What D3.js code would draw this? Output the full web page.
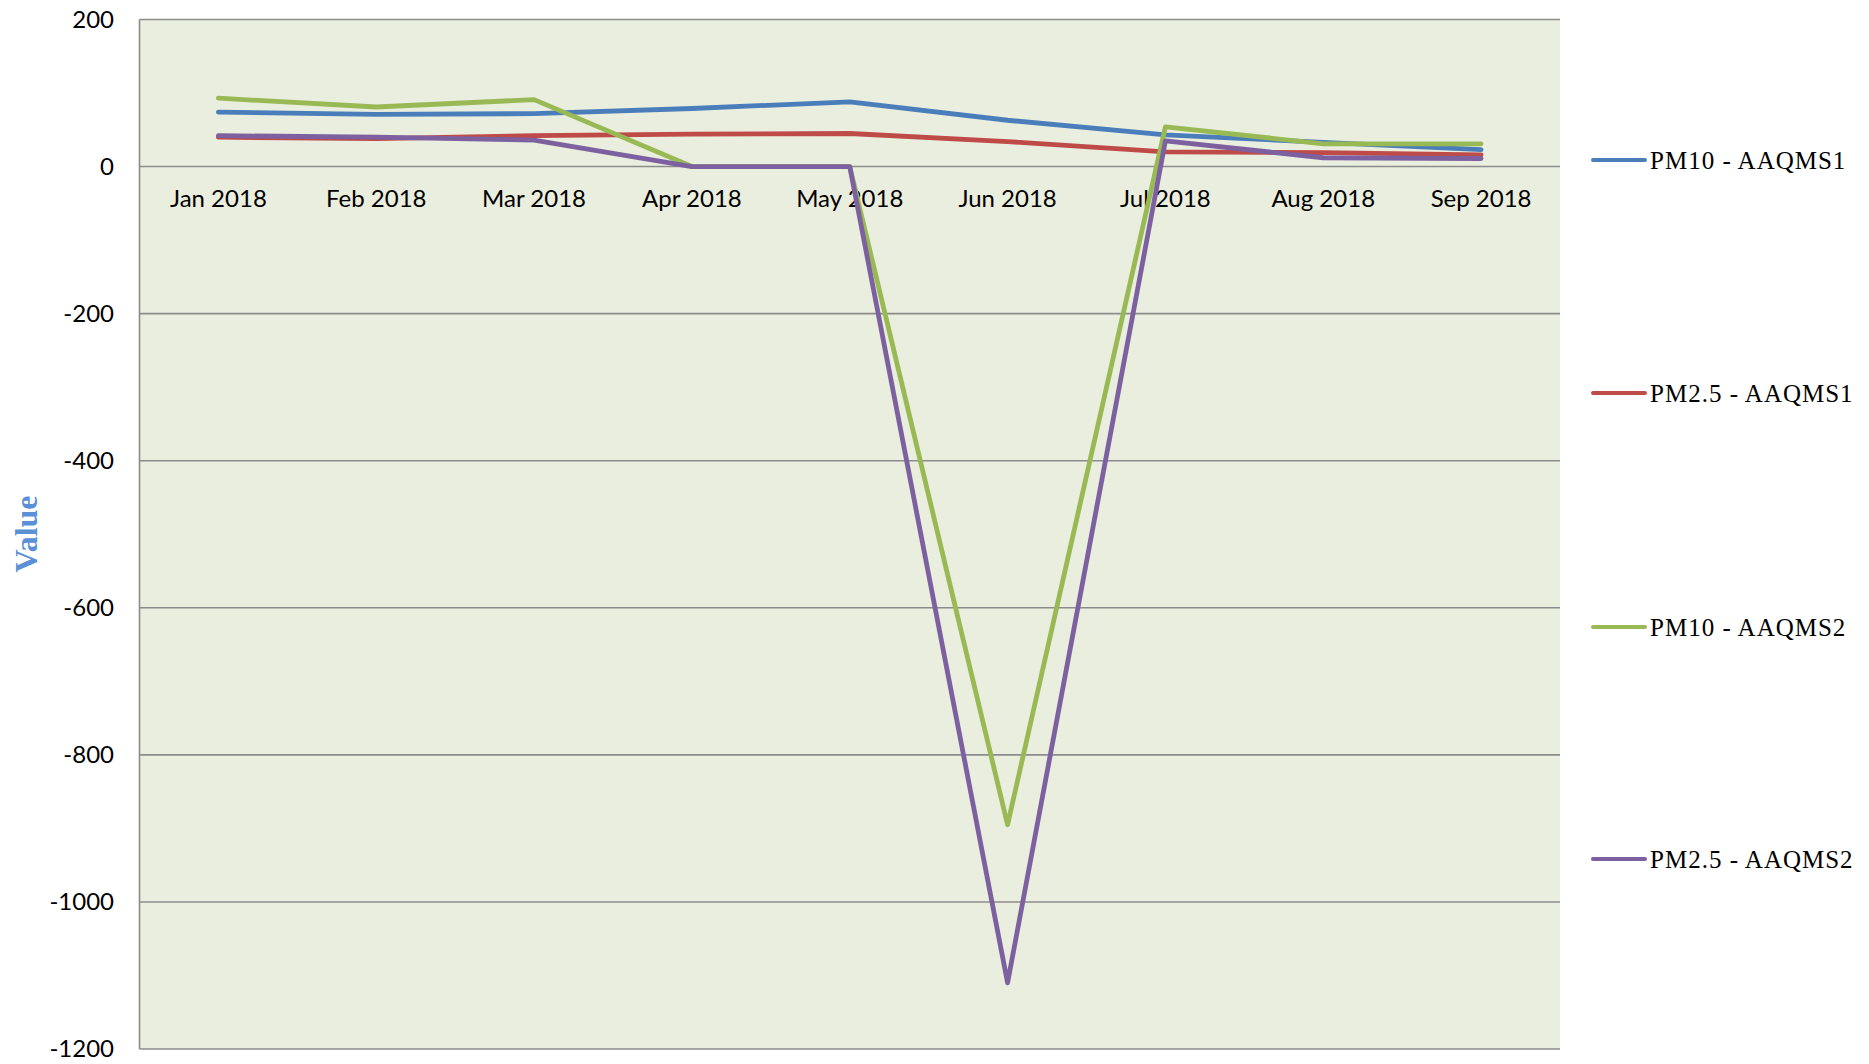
<!DOCTYPE html>
<html>
<head>
<meta charset="utf-8">
<script src="https://cdn.jsdelivr.net/npm/d3@7"></script>
<style>
  body { margin: 0; background: #ffffff; }
</style>
</head>
<body>
<div class="main"></div>
<script>
// chart values
let months = ["Jan 2018", "Feb 2018", "Mar 2018", "Apr 2018", "May 2018", "Jun 2018", "Jul 2018", "Aug 2018", "Sep 2018"];
let seriesNames = ["PM10 - AAQMS1", "PM2.5 - AAQMS1", "PM10 - AAQMS2", "PM2.5 - AAQMS2"];
let pm10_s1 = [74, 71, 72, 79, 88, 63, 43, 33, 23];
let pm25_s1 = [40, 38, 42, 44, 45, 34, 20, 19, 16];
let pm10_s2 = [93, 81, 91, 0, 0, -895, 54, 31, 31];
let pm25_s2 = [42, 40, 36, 0, 0, -1110, 35, 12, 11];
let yTicks = [200, 0, -200, -400, -600, -800, -1000, -1200];

let colors = ["#4A7EBB", "#BE4B48", "#98B954", "#7D60A0"];
let allSeries = [pm10_s1, pm25_s1, pm10_s2, pm25_s2];

let width = 1869,
    height = 1064;

let svg = d3.select("div.main").append("svg")
  .attr("width", width)
  .attr("height", height);

// plot area
let plotLeft = 139.5, plotRight = 1560, plotTop = 19.5, plotBottom = 1049;

let x = d3.scalePoint()
  .domain(months)
  .range([plotLeft, plotRight])
  .padding(0.5);

let y = d3.scaleLinear()
  .domain([-1200, 200])
  .range([plotBottom, plotTop]);

svg.append("rect")
  .attr("x", plotLeft)
  .attr("y", plotTop)
  .attr("width", plotRight - plotLeft)
  .attr("height", plotBottom - plotTop)
  .attr("fill", "#EAEEDE");

// gridlines
svg.append("g")
  .selectAll("line")
  .data(yTicks)
  .enter().append("line")
    .attr("x1", plotLeft)
    .attr("x2", plotRight)
    .attr("y1", d => y(d))
    .attr("y2", d => y(d))
    .attr("stroke", "#8c8c8c")
    .attr("stroke-width", 1.6);

// left axis line
svg.append("line")
  .attr("x1", plotLeft).attr("x2", plotLeft)
  .attr("y1", plotTop).attr("y2", plotBottom)
  .attr("stroke", "#8c8c8c")
  .attr("stroke-width", 1.6);

// y tick labels
svg.append("g")
  .selectAll("text")
  .data(yTicks)
  .enter().append("text")
    .attr("x", 114)
    .attr("y", d => y(d))
    .attr("dy", "0.35em")
    .attr("text-anchor", "end")
    .style("font-family", "Lato, 'Open Sans', sans-serif")
    .style("font-size", "24px")
    .attr("fill", "#000")
    .text(d => d);

// x labels sit under the zero line
svg.append("g")
  .selectAll("text")
  .data(months)
  .enter().append("text")
    .attr("x", d => x(d))
    .attr("y", y(0) + 32)
    .attr("dy", "0.35em")
    .attr("text-anchor", "middle")
    .style("font-family", "Lato, 'Open Sans', sans-serif")
    .style("font-size", "24px")
    .attr("fill", "#000")
    .text(d => d);

// y axis title
svg.append("text")
  .attr("transform", "translate(37," + 534 + ") rotate(-90)")
  .attr("text-anchor", "middle")
  .style("font-family", "'Liberation Serif', 'DejaVu Serif', serif")
  .style("font-weight", "bold")
  .style("font-size", "32px")
  .attr("fill", "#5B8FD6")
  .text("Value");

// lines
let line = d3.line()
  .x((d, i) => x(months[i]))
  .y(d => y(d));

svg.append("g")
  .selectAll("path")
  .data(allSeries)
  .enter().append("path")
    .attr("d", d => line(d))
    .attr("fill", "none")
    .attr("stroke", (d, i) => colors[i])
    .attr("stroke-width", 4.8)
    .attr("stroke-linejoin", "round")
    .attr("stroke-linecap", "round");

// legend
let legendY = [160, 393, 627, 859];
let legend = svg.append("g")
  .selectAll("g")
  .data(seriesNames)
  .enter().append("g")
    .attr("transform", (d, i) => "translate(0," + legendY[i] + ")");

legend.append("line")
  .attr("x1", 1593)
  .attr("x2", 1645)
  .attr("stroke", (d, i) => colors[i])
  .attr("stroke-width", 4)
  .attr("stroke-linecap", "round");

legend.append("text")
  .attr("x", 1650)
  .attr("dy", "0.35em")
  .style("font-family", "'Liberation Serif', 'DejaVu Serif', serif")
  .style("font-size", "25px")
  .style("letter-spacing", "1px")
  .attr("fill", "#000")
  .text(d => d);
</script>
</body>
</html>
